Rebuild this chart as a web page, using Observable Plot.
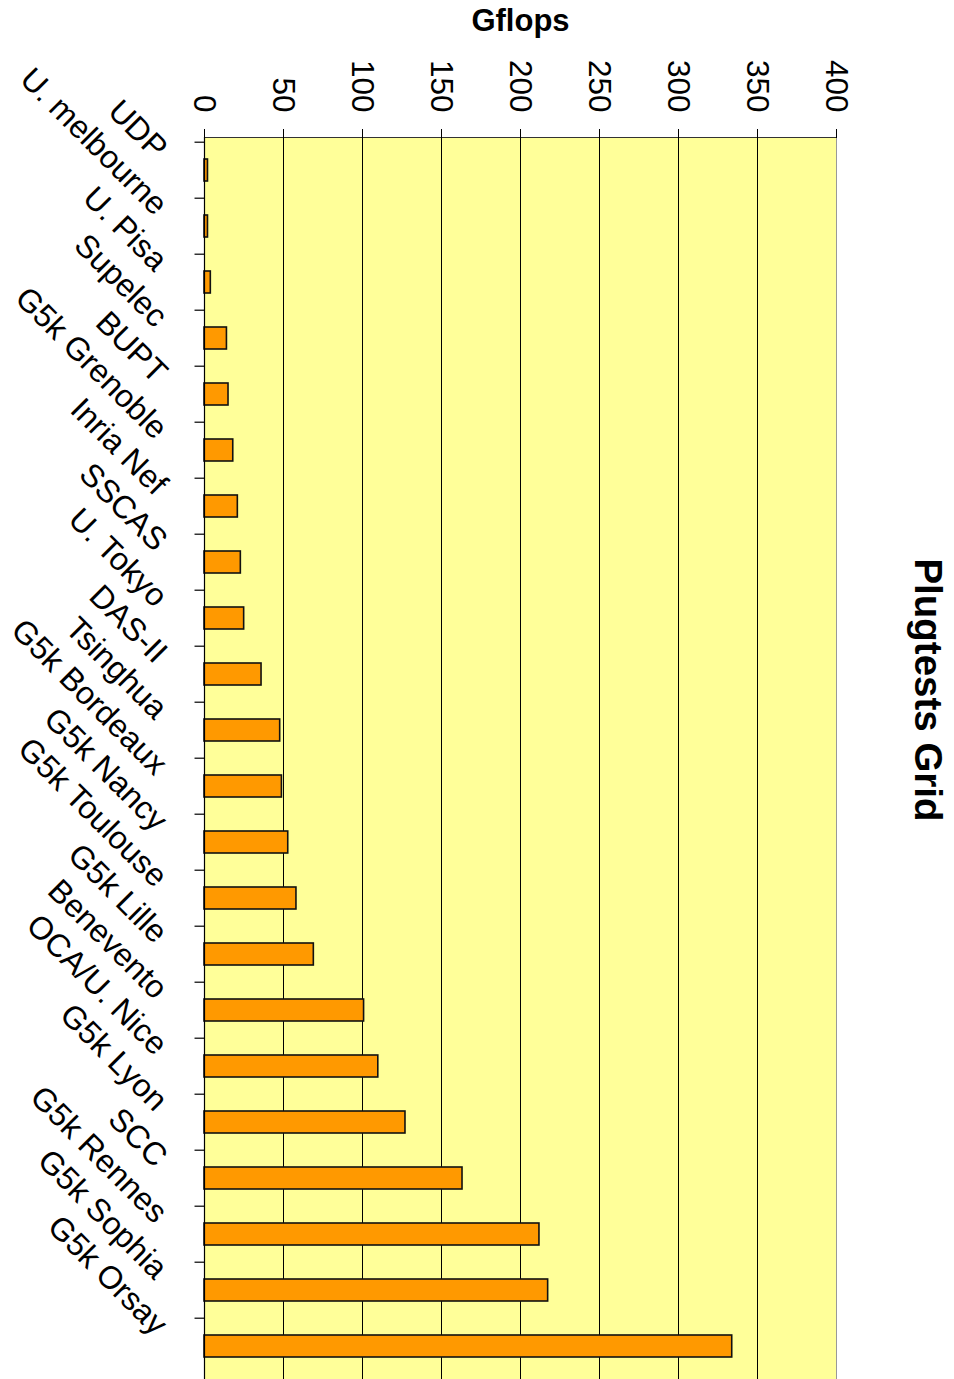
<!DOCTYPE html>
<html><head><meta charset="utf-8">
<script src="https://cdn.jsdelivr.net/npm/d3@7"></script>
<script src="https://cdn.jsdelivr.net/npm/@observablehq/plot@0.6"></script>
<style>html,body{margin:0;padding:0;background:#fff}</style>
</head><body><div id="chart"></div>
<script>
const sites = ["UDP","U. melbourne","U. Pisa","Supelec","BUPT","G5k Grenoble","Inria Nef","SSCAS","U. Tokyo","DAS-II","Tsinghua","G5k Bordeaux","G5k Nancy","G5k Toulouse","G5k Lille","Benevento","OCA/U. Nice","G5k Lyon","SCC","G5k Rennes","G5k Sophia","G5k Orsay"];
const gflops = [2.2,2.2,4,14.2,15.2,18.2,21.1,23,25.1,36.1,47.9,49,53,58.2,69.2,101,110,127.2,163.3,212,217.5,334];
const xTicks = [0,50,100,150,200,250,300,350,400];
const axisTitle = "Gflops";
const chartTitle = "Plugtests Grid";

const data = sites.map((s, i) => ({site: s, value: gflops[i]}));
const W = 954, H = 1379, mL = 204, mR = 118, mT = 137, mB = -1;
const step = (H - mT - mB) / sites.length;
const font = "'Liberation Sans', Arial, Helvetica, sans-serif";

const plot = Plot.plot({
  width: W, height: H,
  marginLeft: mL, marginRight: mR, marginTop: mT, marginBottom: mB,
  style: {fontFamily: font, background: "white", overflow: "hidden", color: "#000"},
  x: {domain: [0, 400], axis: null},
  y: {domain: sites, axis: null, paddingInner: 0.6, paddingOuter: 0.3},
  marks: [
    Plot.frame({fill: "#FFFF99", stroke: null}),
    Plot.ruleX(xTicks.slice(1, -1), {stroke: "#000", strokeWidth: 1}),
    Plot.ruleX([400], {stroke: "#999", strokeWidth: 1}),
    Plot.frame({anchor: "top", stroke: "#333", strokeWidth: 1}),
    Plot.axisX({anchor: "top", ticks: xTicks, tickSize: 9, tickFormat: () => "", label: null, stroke: "#000"}),
    Plot.text(xTicks, {x: d => d, frameAnchor: "top", text: d => String(d), rotate: 90, textAnchor: "end", lineAnchor: "middle", dy: -25, fontSize: 31.5, fill: "#000"}),
    Plot.ruleY(sites, {y: d => d, x1: -6, x2: 0, dy: -step / 2, stroke: "#333", strokeWidth: 1.5}),
    Plot.barX(data, {y: "site", x: "value", fill: "#FF9900", stroke: "#111", strokeWidth: 1.6}),
    Plot.ruleX([0], {stroke: "#000", strokeWidth: 1.2}),
    Plot.text(sites, {y: d => d, frameAnchor: "left", text: d => d, rotate: 45, textAnchor: "end", lineAnchor: "middle", dx: -43, dy: -17, fontSize: 32, fill: "#000"}),
    Plot.text([axisTitle], {frameAnchor: "top", text: d => d, dy: -116, fontWeight: "bold", fontSize: 31, lineAnchor: "middle", fill: "#000"}),
    Plot.text([chartTitle], {frameAnchor: "right", text: d => d, dx: 91, dy: -69, rotate: 90, fontWeight: "bold", fontSize: 38.5, textAnchor: "middle", lineAnchor: "middle", fill: "#000"})
  ]
});
document.getElementById("chart").appendChild(plot);
</script>
</body></html>
